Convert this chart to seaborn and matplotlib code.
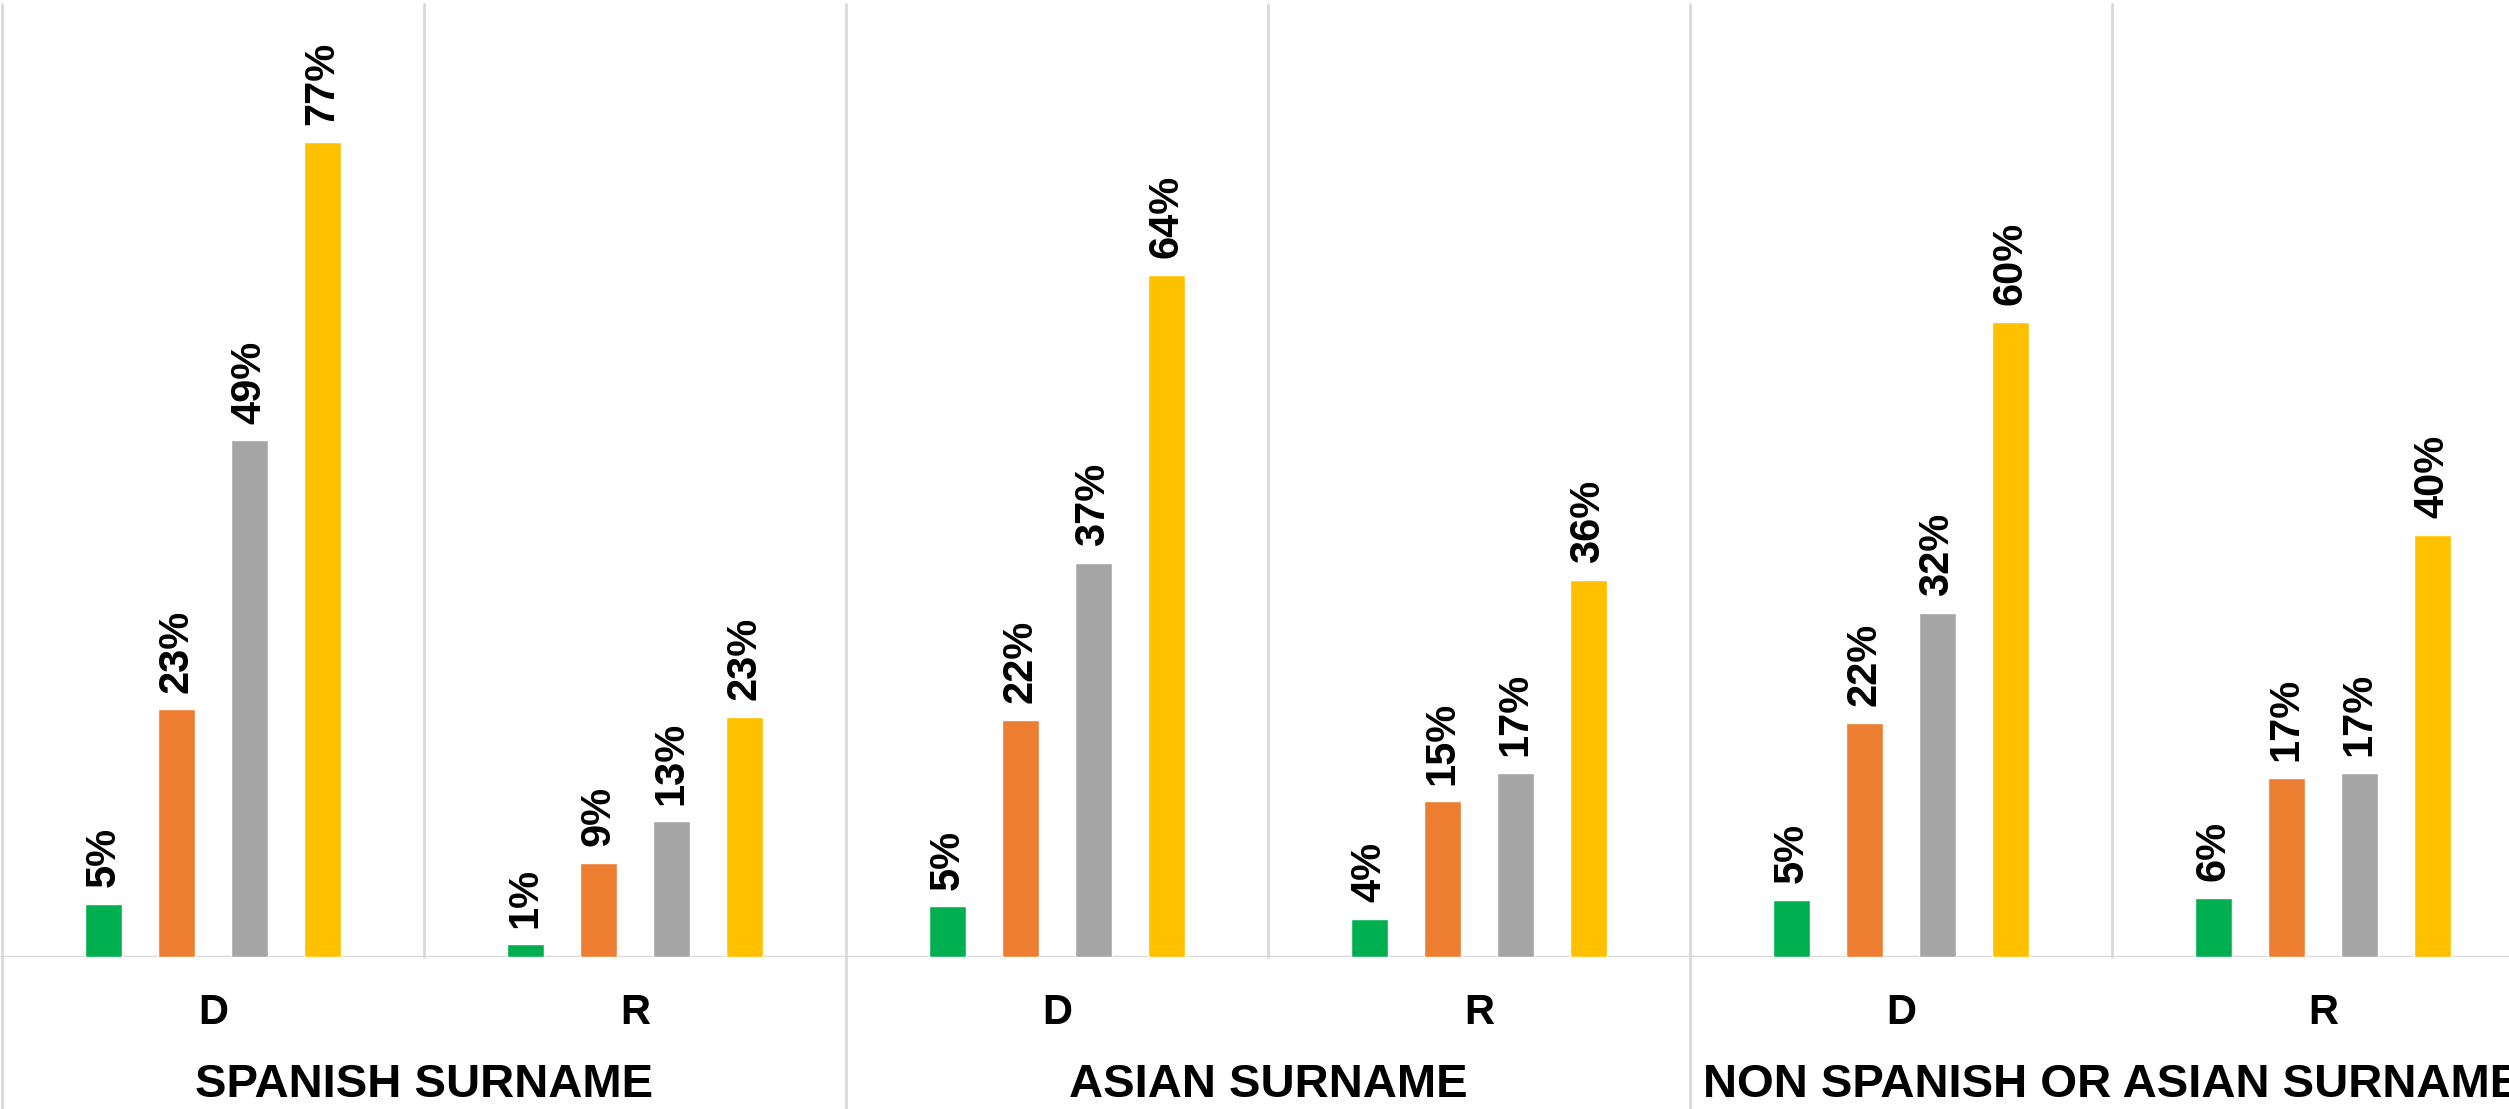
import pandas as pd
import seaborn as sns
import matplotlib.pyplot as plt
from matplotlib.transforms import blended_transform_factory

# values (share of each series)
groups = ["SPANISH SURNAME", "ASIAN SURNAME", "NON SPANISH OR ASIAN SURNAME"]
parties = ["D", "R"]
series = ["Series 1", "Series 2", "Series 3", "Series 4"]
colors = ["#00B050", "#ED7D31", "#A5A5A5", "#FFC000"]

spanish_d = [0.050, 0.234, 0.488, 0.770]
spanish_r = [0.012, 0.089, 0.128, 0.227]
asian_d = [0.048, 0.224, 0.372, 0.644]
asian_r = [0.036, 0.147, 0.174, 0.356]
other_d = [0.054, 0.221, 0.325, 0.600]
other_r = [0.056, 0.169, 0.174, 0.399]

cats = [f"{g} {p}" for g in groups for p in parties]
vals = [spanish_d, spanish_r, asian_d, asian_r, other_d, other_r]

rows = []
for c, v in zip(cats, vals):
    for s, x in zip(series, v):
        rows.append({"cat": c, "series": s, "value": x})
df = pd.DataFrame(rows)

sns.set_style("white")
plt.rcParams["font.family"] = ["Liberation Sans", "DejaVu Sans"]
plt.rcParams["text.color"] = "black"

W, H = 2509, 1109
fig = plt.figure(figsize=(W / 100, H / 100), dpi=100)
# axes runs past the right edge of the figure, like the reference
left, right = 2, 2534
base, top = 957, 4
ax = fig.add_axes([left / W, (H - base) / H, (right - left) / W, (base - top) / H])

sns.barplot(data=df, x="cat", y="value", hue="series", order=cats, hue_order=series,
            palette=colors, width=0.69, gap=0.49, saturation=1, legend=False, ax=ax)

ax.set_xlim(-0.5, len(cats) - 0.5)
ax.set_ylim(0, 0.9)

for cont in ax.containers:
    ax.bar_label(cont, labels=[f"{v * 100:.0f}%" for v in cont.datavalues],
                 rotation=90, padding=12, fontsize=30, fontweight="bold", color="black")

for s in ax.spines.values():
    s.set_visible(False)
ax.set_yticks([])
ax.set_ylabel("")
ax.set_xlabel("")
ax.set_xticks(range(len(cats)))
ax.set_xticklabels([])
ax.tick_params(axis="x", length=0)

grid = "#D9D9D9"
ax.axhline(0, color=grid, lw=2.5, zorder=0)
for i in range(len(cats) + 1):
    x = i - 0.5
    lo = -0.16 if i % 2 == 0 else 0
    ax.axvline(x, ymin=lo, ymax=1, color=grid, lw=2, clip_on=False, zorder=0)

tr = blended_transform_factory(ax.transData, ax.transAxes)
for i, c in enumerate(cats):
    ax.text(i, -0.059, parties[i % 2], transform=tr, ha="center", va="center",
            fontsize=30, fontweight="bold", color="black")
for j, g in enumerate(groups):
    ax.text(2 * j + 0.5, -0.134, g, transform=tr, ha="center", va="center",
            fontsize=34, fontweight="bold", color="black")

fig.savefig("out.png", dpi=100)
